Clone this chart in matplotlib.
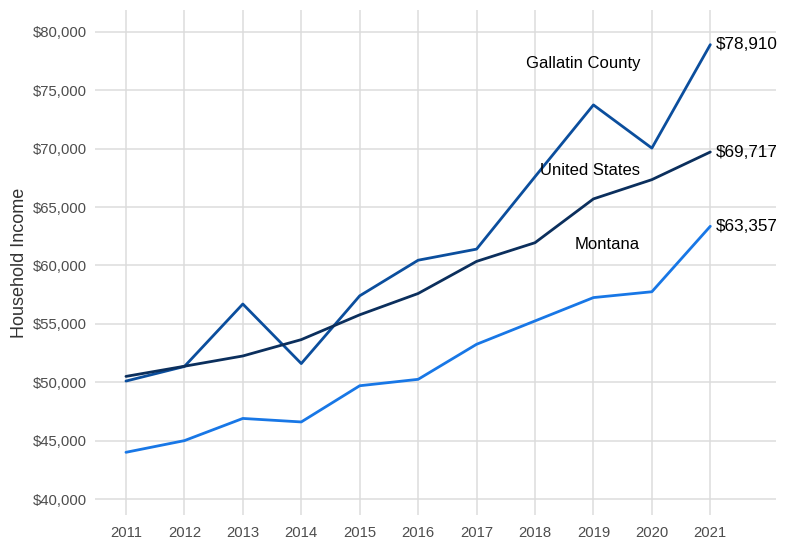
import matplotlib
matplotlib.use("Agg")
import matplotlib.pyplot as plt
from matplotlib.ticker import FuncFormatter

years = [2011, 2012, 2013, 2014, 2015, 2016, 2017, 2018, 2019, 2020, 2021]
gallatin = [50100, 51350, 56700, 51600, 57400, 60450, 61400, 67600, 73750, 70050, 78910]
united_states = [50500, 51370, 52250, 53650, 55775, 57600, 60350, 61950, 65700, 67350, 69717]
montana = [44000, 45000, 46900, 46600, 49700, 50250, 53250, 55250, 57250, 57750, 63357]

series_names = ["Gallatin County", "United States", "Montana"]
series_colors = ["#0b4e9d", "#0b2f5d", "#1877e6"]
label_y = [77300, 68100, 61800]
end_labels = ["$78,910", "$69,717", "$63,357"]
y_ticks = [40000, 45000, 50000, 55000, 60000, 65000, 70000, 75000, 80000]

plt.rcParams['font.family'] = ['Liberation Sans', 'DejaVu Sans']

fig = plt.figure(figsize=(7.87, 5.39), dpi=100)
ax = fig.add_axes([0.1207, 0.0445, 0.865, 0.937])

data = [gallatin, united_states, montana]
for name, vals, col, ly, el in zip(series_names, data, series_colors, label_y, end_labels):
    ax.plot(years, vals, color=col, linewidth=2.0, solid_capstyle='round', zorder=3)
    ax.text(2019.8, ly, name, ha='right', va='center', fontsize=12, color='black', zorder=4)
    ax.text(years[-1] + 0.1, vals[-1], el, ha='left', va='center', fontsize=12.3, color='black', zorder=4)

ax.set_xlim(2010.47, 2022.12)
ax.set_ylim(38630, 81880)
ax.set_xticks(years)
ax.set_yticks(y_ticks)
ax.yaxis.set_major_formatter(FuncFormatter(lambda v, p: "${:,.0f}".format(v)))

ax.grid(True, color='#dcdcdc', linewidth=1.1)
ax.set_axisbelow(True)
for s in ax.spines.values():
    s.set_visible(False)
ax.tick_params(axis='both', length=0, labelsize=10.7, labelcolor='#4d4d4d')
ax.tick_params(axis='y', pad=6)
ax.tick_params(axis='x', pad=8)
ax.set_ylabel("Household Income", fontsize=13, color='#333333', labelpad=3)

fig.savefig("out.png", dpi=100)
